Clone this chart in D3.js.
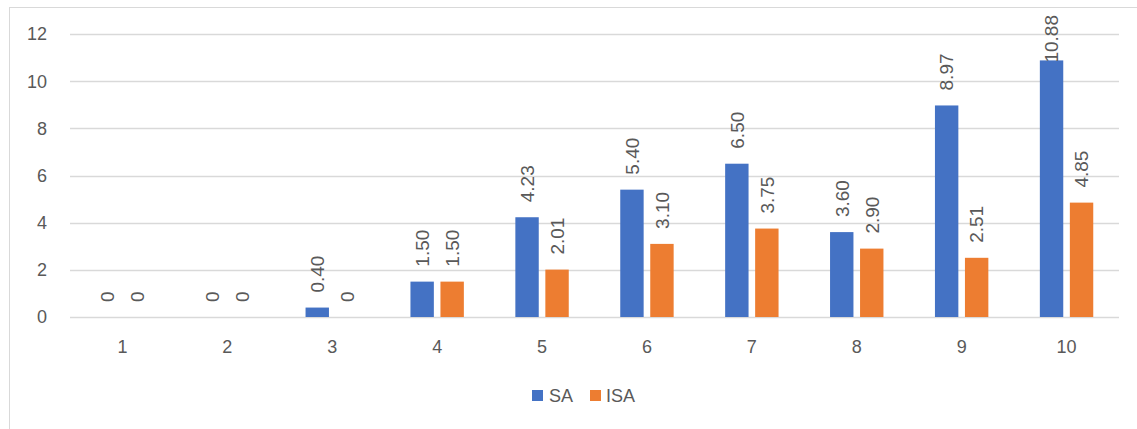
<!DOCTYPE html>
<html>
<head>
<meta charset="utf-8">
<script src="https://cdn.jsdelivr.net/npm/d3@7"></script>
<style>
  html, body { margin: 0; padding: 0; background: #ffffff; }
  svg { display: block; }
  text { font-family: "Liberation Sans", Arial, sans-serif; fill: #595959; }
</style>
</head>
<body>
<svg id="chart" width="1137" height="429"></svg>
<script>
// Category labels along the x axis
const categories = ["1", "2", "3", "4", "5", "6", "7", "8", "9", "10"];
// Series values
const saValues  = [0, 0, 0.40, 1.50, 4.23, 5.40, 6.50, 3.60, 8.97, 10.88];
const isaValues = [0, 0, 0,    1.50, 2.01, 3.10, 3.75, 2.90, 2.51, 4.85];
// Value axis ticks
const yTicks = [0, 2, 4, 6, 8, 10, 12];
const seriesNames = ["SA", "ISA"];
const seriesColors = ["#4472C4", "#ED7D31"];

const svg = d3.select("#chart");

// outer chart frame
svg.append("rect")
  .attr("x", 9.5).attr("y", 7.5)
  .attr("width", 1160).attr("height", 440)
  .attr("fill", "none").attr("stroke", "#d9d9d9").attr("stroke-width", 1);

const x = d3.scaleBand().domain(categories).range([70, 1119]).padding(0);
const y = d3.scaleLinear().domain([0, 12]).range([317, 34]);

// horizontal gridlines
svg.append("g")
  .selectAll("line")
  .data(yTicks)
  .join("line")
  .attr("x1", 70).attr("x2", 1119)
  .attr("y1", d => Math.round(y(d)) + 0.5)
  .attr("y2", d => Math.round(y(d)) + 0.5)
  .attr("stroke", "#d9d9d9").attr("stroke-width", 1.3);

// y axis labels
svg.append("g")
  .selectAll("text")
  .data(yTicks)
  .join("text")
  .attr("x", 47)
  .attr("y", d => y(d))
  .attr("dy", "0.36em")
  .attr("text-anchor", "end")
  .attr("font-size", 18)
  .text(d => d);

// x axis labels
svg.append("g")
  .selectAll("text")
  .data(categories)
  .join("text")
  .attr("x", d => x(d) + x.bandwidth() / 2)
  .attr("y", 347)
  .attr("dy", "0.36em")
  .attr("text-anchor", "middle")
  .attr("font-size", 18)
  .text(d => d);

const barW = 23.4;
const innerGap = 6.6;
const series = [saValues, isaValues];

function barX(cat, s) {
  const c = x(cat) + x.bandwidth() / 2;
  return s === 0 ? c - innerGap / 2 - barW : c + innerGap / 2;
}

const fmt = v => (v === 0 ? "0" : v.toFixed(2));

series.forEach((vals, s) => {
  const g = svg.append("g");
  g.selectAll("rect")
    .data(vals)
    .join("rect")
    .attr("x", (d, i) => barX(categories[i], s))
    .attr("y", d => y(d))
    .attr("width", barW)
    .attr("height", d => y(0) - y(d))
    .attr("fill", seriesColors[s]);

  // rotated value labels above each bar
  g.selectAll("text")
    .data(vals)
    .join("text")
    .attr("font-size", 19)
    .attr("text-anchor", "start")
    .text(d => fmt(d))
    .each(function (d, i) {
      const t = d3.select(this);
      const len = this.getComputedTextLength();
      let start = y(d) - 15;
      // keep the label inside the chart area
      if (start - len < 15) start = 15 + len;
      const cx = barX(categories[i], s) + barW / 2;
      t.attr("transform", `translate(${cx},${start}) rotate(-90)`)
        .attr("dy", "0.36em");
    });
});

// legend
const legend = svg.append("g");
const legendItems = [
  { name: seriesNames[0], color: seriesColors[0], sx: 532, tx: 549 },
  { name: seriesNames[1], color: seriesColors[1], sx: 590, tx: 606 }
];
legendItems.forEach(it => {
  legend.append("rect")
    .attr("x", it.sx).attr("y", 390)
    .attr("width", 11).attr("height", 11)
    .attr("fill", it.color);
  legend.append("text")
    .attr("x", it.tx).attr("y", 396)
    .attr("dy", "0.36em")
    .attr("font-size", 18)
    .text(it.name);
});
</script>
</body>
</html>
